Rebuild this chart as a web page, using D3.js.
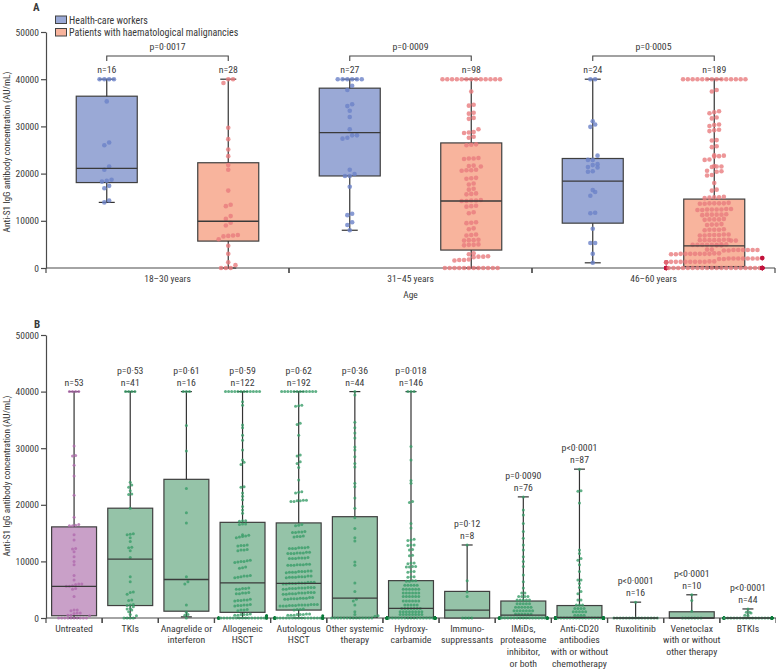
<!DOCTYPE html>
<html><head><meta charset="utf-8">
<script src="https://cdn.jsdelivr.net/npm/d3@7"></script>
<style>
body{margin:0;background:#fff}
svg text{font-family:"Liberation Sans Narrow","Arial Narrow","Roboto Condensed",Roboto,"Liberation Sans",sans-serif;fill:#3a3a3a}
</style></head><body>
<svg id="chart" width="776" height="669"></svg>
<script>
// ---------- Panel A data (values in thousand AU/mL) ----------
const ageGroups = ["18–30 years","31–45 years","46–60 years"];
const cohorts = ["Health-care workers","Patients with haematological malignancies"];
const yTicks = [0,10000,20000,30000,40000,50000];
const agePValues = ["p=0·0017","p=0·0009","p=0·0005"];
const ageN_HCW = [16,27,24];
const ageN_Pat = [28,98,189];
// box stats [q1, median, q3, lower whisker, upper whisker]
const ageBoxHCW = [[18.1,21.1,36.4,13.9,40],[19.5,28.7,38.1,8.0,40],[9.5,18.4,23.2,1.1,40]];
const ageBoxPat = [[5.7,9.9,22.3,0,40],[3.8,14.2,26.5,0,40],[0.3,4.7,14.6,0,40]];

const hcw_18_30 = [40,40,40,40,35.3,26.6,26.0,21.5,20.8,18.7,18.5,18.3,17.4,16.9,14.3,13.9];
const pat_18_30 = [40,40,39.2,29.7,27.3,25.1,23.7,21.8,20.8,16.4,13.4,13.1,11.0,10.4,9.6,9.0,7.0,6.8,6.7,6.9,6.1,4.7,3.0,1.2,0.6,0,0,0];
const hcw_31_45 = [40,40,40,40,40,40,38.6,37.7,34.7,34.3,33.3,32.0,29.4,28.1,28.1,27.6,27.4,20.8,19.5,19.5,19.9,17.2,11.5,11.2,9.7,9.1,8.0];
const pat_31_45 = [40,40,40,40,40,40,40,40,40,40,40,40,40,
 37.4,34.6,34.4,32.9,32.7,31.8,31.6,29.4,28.8,28.7,28.6,27.8,27.6,26.2,26.1,26.0,
 23.3,23.2,23.2,23.1,21.7,21.6,21.5,20.8,20.7,20.7,20.6,19.1,19.0,18.9,17.9,17.7,16.8,16.6,
 15.8,15.7,15.6,14.4,14.3,14.3,14.2,14.2,13.2,13.1,13.0,11.8,11.6,9.7,9.6,9.5,8.4,8.2,
 7.1,7.0,6.9,6.0,5.9,5.9,5.8,5.0,4.9,4.9,4.8,3.1,2.9,2.5,2.4,2.4,2.3,1.8,1.7,1.7,1.6,
 0,0,0,0,0,0,0,0,0,0,0,0];
const hcw_46_60 = [40,40,31.1,30.4,29.9,23.8,22.9,22.9,22.0,21.8,21.4,21.3,20.5,20.4,16.5,16.1,15.3,11.7,11.6,8.3,5.3,5.3,3.0,1.1];
const pat_46_60 = [40,40,40,40,40,40,40,40,40,40,40,40,40,40,
 37.7,37.4,33.2,33.0,32.8,31.9,31.7,30.4,30.3,30.1,29.3,29.2,29.0,27.1,27.0,25.8,25.6,
 23.9,23.8,23.7,23.6,23.0,22.9,21.6,21.5,21.5,21.4,20.6,20.5,20.4,19.7,19.6,18.0,16.6,16.4,
 15.1,15.0,15.0,14.9,14.8,
 13.8,13.7,13.7,13.7,13.6,13.6,13.7,
 12.5,12.4,12.4,12.4,12.3,12.3,12.4,12.5,
 11.4,11.3,11.3,11.3,11.2,11.3,
 10.4,10.3,10.3,10.2,10.3,
 9.3,9.2,9.2,9.1,
 8.2,8.1,8.1,8.0,8.1,
 7.1,7.0,7.0,6.9,7.0,7.1,6.9,
 6.0,5.9,5.9,5.9,5.8,5.9,6.0,5.8,5.9,
 5.0,4.9,4.9,4.9,4.8,4.9,5.0,4.8,4.9,4.9,
 3.9,3.8,3.8,3.8,3.7,3.8,3.9,3.7,3.8,3.8,
 3.1,3.0,3.0,3.0,2.9,3.0,3.1,2.9,3.0,3.0,3.0,
 2.1,2.0,2.0,2.0,1.9,2.0,2.1,1.9,2.0,2.0,2.0,
 1.4,1.3,1.3,1.3,1.2,1.3,1.4,1.2,1.3,1.3,1.3,1.3,
 0,0,0,0,0,0,0,0,0,0,0,0,0,0,0,0,0,0,0,0,0,0,0,0,0,0,0,0,0,0];

// ---------- Panel B data (values in thousand AU/mL) ----------
const treatments = ["Untreated","TKIs","Anagrelide or interferon","Allogeneic HSCT","Autologous HSCT","Other systemic therapy","Hydroxy-carbamide","Immuno-suppressants","IMiDs, proteasome inhibitor, or both","Anti-CD20 antibodies with or without chemotherapy","Ruxolitinib","Venetoclax with or without other therapy","BTKIs"];
const treatmentLabelLines = [["Untreated"],["TKIs"],["Anagrelide or","interferon"],["Allogeneic","HSCT"],["Autologous","HSCT"],["Other systemic","therapy"],["Hydroxy-","carbamide"],["Immuno-","suppressants"],["IMiDs,","proteasome","inhibitor,","or both"],["Anti-CD20","antibodies","with or without","chemotherapy"],["Ruxolitinib"],["Venetoclax","with or without","other therapy"],["BTKIs"]];
const treatmentN = [53,41,16,122,192,44,146,8,76,87,16,10,44];
const treatmentP = ["","p=0·53","p=0·61","p=0·59","p=0·62","p=0·36","p=0·018","p=0·12","p=0·0090","p<0·0001","p<0·0001","p<0·0001","p<0·0001"];
// box stats [q1, median, q3, lower whisker, upper whisker]
const treatmentBox = [[0.4,5.6,16.1,0,40],[2.2,10.4,19.4,0,40],[1.2,6.8,24.5,0.2,40],[1.0,6.2,16.9,0,40],[1.4,6.1,16.8,0,40],[0.1,3.5,17.9,0,40],[0.1,1.7,6.6,0,40],[0,1.4,4.7,0,12.9],[0,0.5,3.0,0,21.4],[0,0.1,2.2,0,26.3],[0,0,0,0,2.8],[0,0,1.1,0,4.1],[0,0,0,0,1.6]];

const untreated = [40,40,40,40,30.4,28.7,28.6,27.0,25.1,21.7,17.8,16.5,16.4,16.3,16.3,14.7,13.8,12.3,12.2,11.7,10.8,10.0,9.4,7.5,6.7,6.0,6.0,5.9,5.7,5.6,5.6,5.2,5.1,3.8,1.4,1.4,1.3,0.9,0.9,0.8,0.5,0.5,0.4,0,0,0,0,0,0,0,0,0,0];
const tkis = [40,40,40,40,24.0,23.5,23.1,22.5,21.9,21.8,19.4,14.9,14.8,14.7,14.2,13.5,12.5,12.4,11.9,10.7,7.3,6.4,4.6,4.5,4.2,3.2,3.1,2.4,2.3,2.2,2.0,1.7,1.6,1.4,1.1,0.6,0.4,0,0,0,0];
const anagrelide = [40,40,40,34.0,29.5,22.9,18.6,16.8,7.3,6.4,6.0,2.3,1.0,0.6,0.5,0];
const allogeneic = [40,40,40,40,40,40,40,40,40,40,40,40,38.2,37.6,34.1,33.6,32.3,31.4,29.7,27.9,27.5,27.1,23.2,23.1,22.1,21.5,20.9,19.7,19.1,18.5,
 17.2,17.2,17.1,16.6,16.6,16.5,14.7,14.6,14.5,14.4,14.3,14.2,12.9,12.8,12.8,12.7,12.1,12.0,12.0,11.9,
 10.2,10.1,10.0,10.0,9.9,9.8,9.0,8.9,8.8,7.5,7.4,7.4,7.3,7.2,7.1,5.3,5.2,5.2,5.1,5.1,4.5,4.4,4.4,4.3,4.3,
 3.3,3.2,3.2,3.1,3.1,3.0,2.4,2.3,2.3,2.2,2.2,2.1,1.5,1.4,1.4,1.3,0.7,0.6,0.6,0.6,0.5,0.5,0.4,0.4,
 0,0,0,0,0,0,0,0,0,0,0,0,0,0,0,0,0,0,0,0,0,0,0];
const autologous = [40,40,40,40,40,40,40,40,40,40,40,40,37.6,37.5,37.4,34.4,34.2,32.3,28.8,28.6,27.6,27.3,26.6,24.4,22.3,22.2,22.1,
 20.8,20.8,20.7,20.7,20.6,20.6,16.5,16.4,16.3,15.3,15.2,15.2,15.1,15.1,14.5,14.4,14.4,14.3,
 12.5,12.4,12.4,12.4,12.3,12.3,12.3,11.6,11.6,11.5,11.5,11.5,11.4,11.4,11.4,10.7,10.6,10.6,10.6,10.5,10.5,10.5,
 9.5,9.5,9.4,9.4,9.4,9.3,9.3,9.3,8.3,8.3,8.2,8.2,8.2,8.1,8.1,8.1,8.0,7.4,7.4,7.3,7.3,7.3,7.2,7.2,7.2,7.1,
 6.3,6.3,6.3,6.2,6.2,6.2,6.1,6.1,6.1,6.0,6.0,5.4,5.4,5.4,5.3,5.3,5.3,5.2,5.2,5.2,5.1,5.1,
 4.5,4.5,4.5,4.4,4.4,4.4,4.3,4.3,4.3,4.2,4.2,3.6,3.6,3.5,3.5,3.5,3.4,3.4,3.4,3.3,3.3,
 2.4,2.4,2.4,2.3,2.3,2.3,2.3,2.2,2.2,2.2,2.1,2.1,2.1,1.6,1.5,1.5,1.4,0.7,0.7,0.6,0.6,0.6,0.5,0.5,0.5,0.4,
 0,0,0,0,0,0,0,0,0,0,0,0,0,0,0,0,0,0,0,0,0,0,0,0,0,0,0,0,0,0];
const otherSystemic = [40,39.4,34.6,33.6,32.7,31.8,30.2,29.7,28.5,27.3,26.7,23.8,23.2,21.2,19.4,17.7,15.8,14.2,13.6,9.9,9.3,6.2,4.7,3.3,3.0,2.3,1.1,0.6,0.4,0.3,0,0,0,0,0,0,0,0,0,0,0,0,0,0];
const hydroxycarbamide = [40,40,40,30.3,27.9,24.3,23.8,20.6,20.4,16.7,15.9,13.9,13.8,13.7,12.9,12.9,12.8,12.1,12.0,11.1,11.0,9.7,9.7,9.6,9.1,9.1,9.0,9.0,8.2,8.2,8.1,7.3,7.3,7.2,6.6,6.6,6.5,6.5,
 5.8,5.8,5.8,5.8,5.8,5.1,5.1,5.1,5.1,5.1,5.1,4.4,4.4,4.4,4.4,4.4,4.4,3.8,3.8,3.8,3.8,3.8,3.8,3.0,3.0,3.0,3.0,3.0,3.0,
 2.3,2.3,2.3,2.3,2.3,1.7,1.7,1.7,1.7,1.7,1.7,1.7,1.1,1.1,1.1,1.1,1.1,1.1,1.1,1.1,0.6,0.6,0.6,0.6,0.6,0.6,0.6,0.6,
 0,0,0,0,0,0,0,0,0,0,0,0,0,0,0,0,0,0,0,0,0,0,0,0,0,0,0,0,0,0,0,0,0,0,0,0,0,0,0,0,0,0,0,0,0,0,0,0,0,0,0];
const immunosuppressants = [12.9,6.6,4.6,3.8,0,0,0,0];
const imids = [21.4,19.1,18.2,16.7,15.3,14.1,12.9,12.0,10.8,10.0,9.1,7.6,6.4,5.3,4.4,4.4,3.8,3.8,3.8,3.8,3.2,3.2,3.2,3.2,3.2,2.5,2.5,2.5,2.5,2.5,
 1.9,1.9,1.9,1.9,1.9,1.9,1.3,1.3,1.3,1.3,1.3,1.3,1.3,0.7,0.7,0.7,0.7,0.7,0.7,
 0,0,0,0,0,0,0,0,0,0,0,0,0,0,0,0,0,0,0,0,0,0,0,0,0,0,0];
const antiCD20 = [26.3,22.5,22.4,20.3,12.0,11.4,10.5,10.2,9.4,8.2,6.7,6.7,6.1,5.4,4.7,4.3,3.2,3.2,2.3,2.3,2.3,1.7,1.7,1.7,1.7,1.1,1.1,1.1,1.1,1.1,0.5,0.5,0.5,0.5,
 0,0,0,0,0,0,0,0,0,0,0,0,0,0,0,0,0,0,0,0,0,0,0,0,0,0,0,0,0,0,0,0,0,0,0,0,0,0,0,0,0,0,0,0,0,0,0,0,0,0,0,0,0];
const ruxolitinib = [2.8,0,0,0,0,0,0,0,0,0,0,0,0,0,0,0];
const venetoclax = [4.1,3.1,1.2,0,0,0,0,0,0,0];
const btkis = [1.6,1.0,1.0,0.9,0.5,0.5,0,0,0,0,0,0,0,0,0,0,0,0,0,0,0,0,0,0,0,0,0,0,0,0,0,0,0,0,0,0,0,0,0,0,0,0,0,0];
const treatmentValues = [untreated,tkis,anagrelide,allogeneic,autologous,otherSystemic,hydroxycarbamide,immunosuppressants,imids,antiCD20,ruxolitinib,venetoclax,btkis];

// ---------- drawing ----------
const svg = d3.select("#chart");
const K = 1000;
const axisCol = "#4a4a4a";

function swarm(vals, y, sp, rh, mh) {
  const pts = vals.map(v => ({v, y: y(v*K)})).sort((a,b) => b.y - a.y);
  const out = []; let i = 0;
  while (i < pts.length) {
    const y0 = pts[i].y; let j = i;
    while (j < pts.length && y0 - pts[j].y < rh) j++;
    const row = pts.slice(i, j), k = row.length;
    row.forEach((p, idx) => {
      let dx = (idx - (k-1)/2) * sp, clamp = false;
      if (Math.abs(dx) > mh) { dx = Math.sign(dx) * mh; clamp = true; }
      out.push({y: p.y, dx, clamp});
    });
    i = j;
  }
  return out;
}

function drawGroup(g, cx, bw, capW, st, vals, y, sty, r, sp, rh, mh) {
  const [q1, med, q3, lo, hi] = st.map(v => v*K);
  g.append("rect").attr("x", cx-bw/2).attr("y", y(q3)).attr("width", bw)
    .attr("height", Math.max(0, y(q1)-y(q3))).attr("fill", sty.fill)
    .attr("stroke", "#3f3f3f").attr("stroke-width", 1.2);
  const wl = [[y(hi), y(q3)], [y(q1), y(lo)]];
  wl.forEach(([a,b]) => g.append("line").attr("x1",cx).attr("x2",cx).attr("y1",a).attr("y2",b)
    .attr("stroke","#333").attr("stroke-width",1.2));
  [hi, lo].forEach(v => g.append("line").attr("x1",cx-capW/2).attr("x2",cx+capW/2)
    .attr("y1",y(v)).attr("y2",y(v)).attr("stroke","#333").attr("stroke-width",1.2));
  const pts = swarm(vals, y, sp, rh, mh);
  g.selectAll("circle.pt").data(pts).join("circle").attr("class","pt")
    .attr("cx", d => cx + d.dx).attr("cy", d => d.y).attr("r", r)
    .attr("fill", d => d.clamp ? sty.clamp : sty.dot)
    .attr("fill-opacity", d => d.clamp ? 1 : 0.8);
  g.append("line").attr("x1",cx-bw/2).attr("x2",cx+bw/2).attr("y1",y(med)).attr("y2",y(med))
    .attr("stroke","#3a3a3a").attr("stroke-width",1.3);
}

function yAxis(y, x0) {
  const g = svg.append("g").attr("transform", `translate(${x0},0)`)
    .call(d3.axisLeft(y).tickValues(yTicks).tickSize(5).tickSizeOuter(0).tickPadding(2).tickFormat(d => String(d)));
  g.selectAll("path,line").attr("stroke", axisCol).attr("stroke-width", 1.2);
  g.selectAll("text").attr("font-size", 9.5).attr("fill", "#3a3a3a");
  return g;
}

// ===== Panel A =====
const yA = d3.scaleLinear().domain([0,50000]).range([268,32]);
const xA = d3.scaleBand().domain(ageGroups).range([46,775]);
const xSub = d3.scalePoint().domain(cohorts).range([0, xA.bandwidth()]).padding(0.5);
const ageData = [[hcw_18_30, pat_18_30],[hcw_31_45, pat_31_45],[hcw_46_60, pat_46_60]];
const stylesA = [
  {fill:"#9aa9d6", dot:"#6c82c8", clamp:"#34489a"},
  {fill:"#f8b49d", dot:"#e97c7e", clamp:"#c2123c"}];

svg.append("text").attr("x",33).attr("y",11).attr("font-size",11).attr("font-weight","bold").text("A");
yAxis(yA, 46);
// x axis A
const xaG = svg.append("g");
xaG.append("line").attr("x1",46).attr("x2",775).attr("y1",yA(0)).attr("y2",yA(0)).attr("stroke",axisCol).attr("stroke-width",1.2);
ageGroups.forEach(a => {
  [xA(a), xA(a)+xA.bandwidth()].forEach(x => xaG.append("line").attr("x1",x).attr("x2",x)
    .attr("y1",yA(0)).attr("y2",yA(0)+5).attr("stroke",axisCol).attr("stroke-width",1.2));
  xaG.append("text").attr("x", xA(a)+xA.bandwidth()/2).attr("y", 282).attr("text-anchor","middle")
    .attr("font-size",9.5).text(a);
});
svg.append("text").attr("x",(46+775)/2).attr("y",298).attr("text-anchor","middle").attr("font-size",9.5).text("Age");
svg.append("text").attr("transform","translate(10,152) rotate(-90)").attr("text-anchor","middle")
  .attr("font-size",9.3).text("Anti-S1 IgG antibody concentration (AU/mL)");

const boxesA = [ageBoxHCW, ageBoxPat];
const nA = [ageN_HCW, ageN_Pat];
const gA = svg.append("g");
ageGroups.forEach((a, ai) => {
  cohorts.forEach((c, ci) => {
    const cx = xA(a) + xSub(c);
    drawGroup(gA.append("g"), cx, 61, 16, boxesA[ci][ai], ageData[ai][ci], yA, stylesA[ci], 2.3, 4.8, 4.4, 48);
    gA.append("text").attr("x", cx).attr("y", yA(boxesA[ci][ai][4]*K) - 6).attr("text-anchor","middle")
      .attr("font-size",9.8).text("n=" + nA[ci][ai]);
  });
  const x1 = xA(a) + xSub(cohorts[0]), x2 = xA(a) + xSub(cohorts[1]);
  gA.append("path").attr("d", `M${x1},61V56H${x2}V61`).attr("fill","none").attr("stroke","#444").attr("stroke-width",1.1);
  gA.append("text").attr("x",(x1+x2)/2).attr("y",50).attr("text-anchor","middle").attr("font-size",9.8).text(agePValues[ai]);
});

// legend
cohorts.forEach((c, i) => {
  svg.append("rect").attr("x",55.5).attr("y",16+i*12.5).attr("width",11).attr("height",7.5)
    .attr("fill",stylesA[i].fill).attr("stroke","#444").attr("stroke-width",1);
  svg.append("text").attr("x",69).attr("y",23.5+i*12.5).attr("font-size",10).text(c);
});

// ===== Panel B =====
const yB = d3.scaleLinear().domain([0,50000]).range([618,335]);
const xB = d3.scaleBand().domain(treatments).range([46,776]);
svg.append("text").attr("x",34).attr("y",328).attr("font-size",11).attr("font-weight","bold").text("B");
yAxis(yB, 46);
const xbG = svg.append("g");
xbG.append("line").attr("x1",46).attr("x2",776).attr("y1",yB(0)).attr("y2",yB(0)).attr("stroke",axisCol).attr("stroke-width",1.2);
treatments.forEach((t, ti) => {
  [xB(t), xB(t)+xB.bandwidth()].forEach(x => xbG.append("line").attr("x1",x).attr("x2",x)
    .attr("y1",yB(0)).attr("y2",yB(0)+5).attr("stroke",axisCol).attr("stroke-width",1.2));
  const tx = xbG.append("text").attr("x", xB(t)+xB.bandwidth()/2).attr("y", 631.5).attr("text-anchor","middle").attr("font-size",9.8);
  treatmentLabelLines[ti].forEach((ln, li) => tx.append("tspan").attr("x", xB(t)+xB.bandwidth()/2).attr("dy", li ? 11.8 : 0).text(ln));
});
svg.append("text").attr("transform","translate(10,476) rotate(-90)").attr("text-anchor","middle")
  .attr("font-size",9.3).text("Anti-S1 IgG antibody concentration (AU/mL)");

const styleUntreated = {fill:"#c9a0c8", dot:"#b06aae", clamp:"#7a2f78"};
const styleTreated = {fill:"#95c3a8", dot:"#3a9e69", clamp:"#0b7a3a"};
const gB = svg.append("g");
treatments.forEach((t, ti) => {
  const cx = xB(t) + xB.bandwidth()/2;
  drawGroup(gB.append("g"), cx, xB.bandwidth()*0.8, 11, treatmentBox[ti], treatmentValues[ti], yB,
    ti === 0 ? styleUntreated : styleTreated, 1.5, 3.1, 2.8, 24);
  const top = yB(treatmentBox[ti][4]*K);
  gB.append("text").attr("x",cx).attr("y",top-6).attr("text-anchor","middle").attr("font-size",9.8).text("n=" + treatmentN[ti]);
  if (treatmentP[ti]) gB.append("text").attr("x",cx).attr("y",top-18).attr("text-anchor","middle").attr("font-size",9.8).text(treatmentP[ti]);
});
</script>
</body></html>
